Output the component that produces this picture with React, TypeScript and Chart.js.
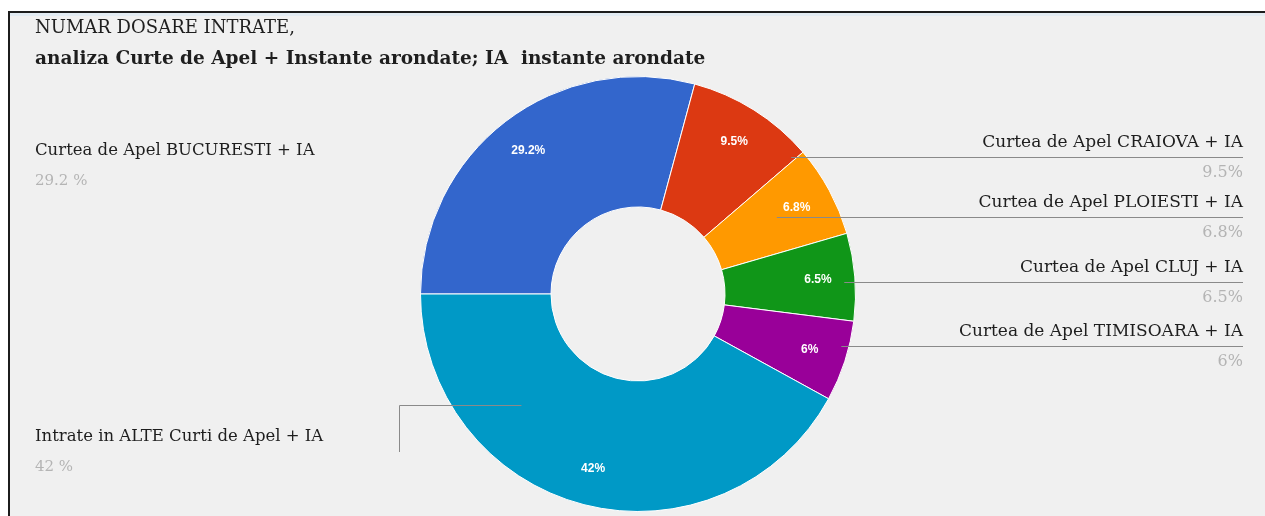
import React, { useEffect, useRef } from "react";
import { Chart, registerables } from "chart.js";

Chart.register(...registerables);

// ---- data ----
const categories: string[] = [
  "Curtea de Apel BUCURESTI + IA",
  "Curtea de Apel CRAIOVA + IA",
  "Curtea de Apel PLOIESTI + IA",
  "Curtea de Apel CLUJ + IA",
  "Curtea de Apel TIMISOARA + IA",
  "Intrate in ALTE Curti de Apel + IA",
];
const shares: number[] = [29.2, 9.5, 6.8, 6.5, 6, 42];
const titleLines: string[] = [
  "NUMAR DOSARE INTRATE,",
  "analiza Curte de Apel + Instante arondate; IA  instante arondate",
];

// ---- style ----
const colors = ["#3366cc", "#dc3912", "#ff9900", "#109618", "#990099", "#0099c6"];
const W = 1265;
const H = 516;
const SERIF = '"DejaVu Serif", "Liberation Serif", serif';
// label layout: side, anchor y (line / block), leader radius fraction
const labelSide = ["left", "right", "right", "right", "right", "left"];
const labelY = [166, 157, 217, 282, 346, 452];
const leaderFrac = [0, 0.945, 0.73, 0.95, 0.965, 0.74];
const showLeader = [false, true, true, true, true, true];

const decor = {
  id: "decor",
  beforeDraw(chart: any) {
    const ctx = chart.ctx;
    ctx.save();
    ctx.fillStyle = "#ffffff";
    ctx.fillRect(0, 0, W, H);
    ctx.fillStyle = "#f0f0f0";
    ctx.fillRect(9, 12, W - 9, H - 12);
    ctx.fillStyle = "#e2ebf2";
    ctx.fillRect(10, 13, W - 10, 3);
    ctx.fillStyle = "#1c1c1c";
    ctx.fillRect(8, 11, W - 8, 2);
    ctx.fillRect(8, 11, 2, H - 11);
    // title
    ctx.fillStyle = "#1e1e1e";
    ctx.textBaseline = "middle";
    ctx.textAlign = "left";
    ctx.font = `18px ${SERIF}`;
    ctx.fillText(titleLines[0], 35, 28);
    ctx.font = `bold 18.5px ${SERIF}`;
    ctx.fillText(titleLines[1], 35, 59);
    ctx.restore();
  },
  afterDatasetsDraw(chart: any) {
    const ctx = chart.ctx;
    const meta = chart.getDatasetMeta(0);
    ctx.save();
    meta.data.forEach((arc: any, i: number) => {
      const p = arc.getProps(["x", "y", "startAngle", "endAngle", "outerRadius"], true);
      const cx = p.x, cy = p.y, R = p.outerRadius;
      const side = labelSide[i];
      const ly = labelY[i];
      ctx.strokeStyle = "#8a8a8a";
      ctx.lineWidth = 1;
      if (side === "right") {
        if (showLeader[i]) {
          const r = leaderFrac[i] * R;
          const dy = ly - cy;
          const sx = cx + Math.sqrt(Math.max(r * r - dy * dy, 0));
          ctx.beginPath();
          ctx.moveTo(sx, ly + 0.5);
          ctx.lineTo(1243, ly + 0.5);
          ctx.stroke();
        }
        ctx.textAlign = "right";
        ctx.textBaseline = "middle";
        ctx.font = `17px ${SERIF}`;
        ctx.fillStyle = "#1e1e1e";
        ctx.fillText(categories[i], 1243, ly - 14);
        ctx.font = `16px ${SERIF}`;
        ctx.fillStyle = "#b4b4b4";
        ctx.fillText(`${shares[i]}%`, 1243, ly + 16);
      } else {
        if (showLeader[i]) {
          const r = leaderFrac[i] * R;
          const hy = 405;
          const dy = hy - cy;
          const sx = cx - Math.sqrt(Math.max(r * r - dy * dy, 0));
          ctx.beginPath();
          ctx.moveTo(sx, hy + 0.5);
          ctx.lineTo(399.5, hy + 0.5);
          ctx.lineTo(399.5, ly);
          ctx.stroke();
        }
        ctx.textAlign = "left";
        ctx.textBaseline = "middle";
        ctx.font = `16.5px ${SERIF}`;
        ctx.fillStyle = "#1e1e1e";
        ctx.fillText(categories[i], 35, ly - 15);
        ctx.font = `15px ${SERIF}`;
        ctx.fillStyle = "#b4b4b4";
        ctx.fillText(`${shares[i]} %`, 35, ly + 15);
      }
    });
    // in-slice labels
    meta.data.forEach((arc: any, i: number) => {
      const p = arc.getProps(["x", "y", "startAngle", "endAngle", "outerRadius"], true);
      const mid = (p.startAngle + p.endAngle) / 2;
      const r = p.outerRadius * 0.83;
      ctx.fillStyle = "#ffffff";
      ctx.textAlign = "center";
      ctx.textBaseline = "middle";
      ctx.font = 'bold 12px "Liberation Sans", Arial, sans-serif';
      ctx.fillText(`${shares[i]}%`, p.x + Math.cos(mid) * r, p.y + Math.sin(mid) * r);
    });
    ctx.restore();
  },
};

export default function App() {
  const ref = useRef<HTMLCanvasElement | null>(null);
  useEffect(() => {
    document.body.style.margin = "0";
    const canvas = ref.current;
    if (!canvas) return;
    const chart = new Chart(canvas, {
      type: "doughnut",
      data: {
        labels: categories,
        datasets: [
          {
            data: shares,
            backgroundColor: colors,
            borderColor: "#ffffff",
            borderWidth: 1,
          },
        ],
      },
      options: {
        responsive: false,
        animation: false,
        rotation: -90,
        cutout: "40%",
        layout: { padding: { left: 419, right: 408, top: 76, bottom: 4 } },
        plugins: {
          legend: { display: false },
          title: { display: false },
          tooltip: { enabled: false },
        },
      },
      plugins: [decor],
    });
    return () => chart.destroy();
  }, []);
  return (
    <div style={{ width: W, height: H }}>
      <canvas ref={ref} width={W} height={H} style={{ display: "block", width: W, height: H }} />
    </div>
  );
}
